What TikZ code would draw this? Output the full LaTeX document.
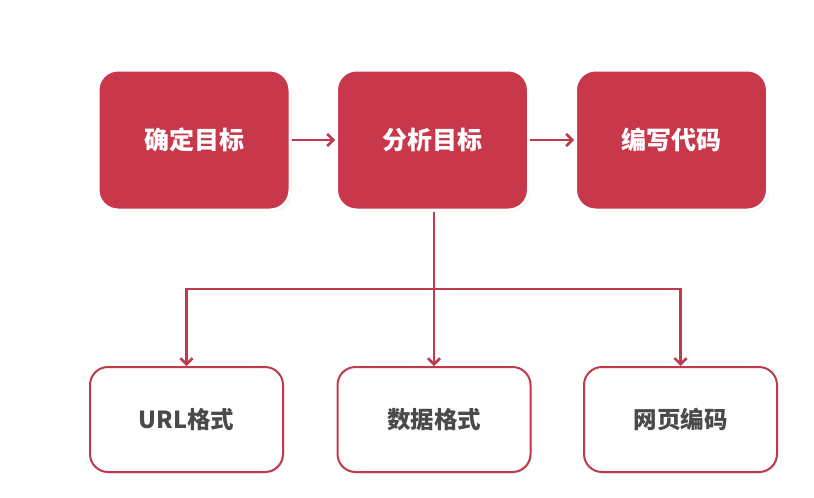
\documentclass[tikz,border=0pt]{standalone}
\usepackage{fontspec}
\newfontfamily\cjk{Noto Sans CJK SC}
\usetikzlibrary{arrows.meta,shadows}
\definecolor{boxred}{HTML}{C8374A}
\definecolor{linered}{HTML}{BE3A4C}
\definecolor{textgray}{HTML}{4A4A4A}

\begin{document}
\begin{tikzpicture}[x=1pt,y=-1pt,
  stagebox/.style={rectangle, rounded corners=20pt, fill=boxred, draw=white, line width=3pt,
    minimum width=192pt, minimum height=140pt, text=white, font=\cjk\bfseries\fontsize{25}{25}\selectfont,
    drop shadow={opacity=0.25, shadow xshift=1.5pt, shadow yshift=-1.5pt}},
  partbox/.style={rectangle, rounded corners=18pt, fill=white, draw=linered, line width=2pt,
    minimum width=193pt, minimum height=105pt, text=textgray, font=\cjk\bfseries\fontsize{23.5}{23.5}\selectfont,
    drop shadow={opacity=0.15, shadow xshift=1.5pt, shadow yshift=-1.5pt}},
  link/.style={draw=linered, line width=2.5pt, -{Straight Barb[length=6pt,width=12pt]}}]
  \useasboundingbox (0,0) rectangle (814,498);

  \node[stagebox] (goal) at (194,140) {确定目标};
  \node[stagebox] (analyse) at (432.5,140) {分析目标};
  \node[stagebox] (code) at (671.5,140) {编写代码};

  \node[partbox] (url) at (186.5,419.5) {URL格式};
  \node[partbox] (data) at (434,419.5) {数据格式};
  \node[partbox] (enc) at (680.5,419.5) {网页编码};

  \draw[link] (goal) -- (analyse);
  \draw[link] (analyse) -- (code);

  \coordinate (split) at (434,289);
  \draw[link] (analyse.south -| split) -- (data.north);
  \draw[link] (split) -| (url.north);
  \draw[link] (split) -| (enc.north);
\end{tikzpicture}
\end{document}
